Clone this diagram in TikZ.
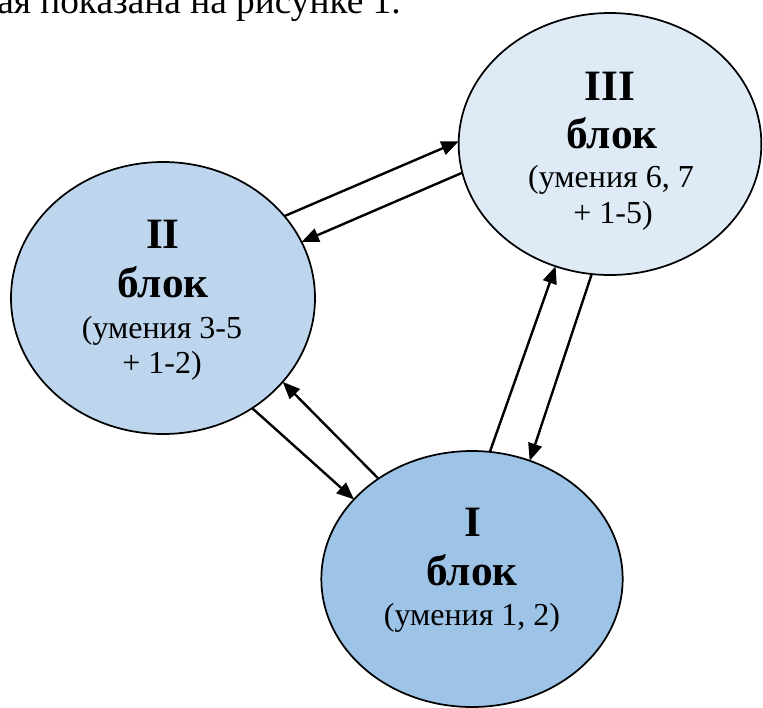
\documentclass[tikz,border=0pt]{standalone}
\usepackage{fontspec}
\setmainfont{Liberation Serif}
\usetikzlibrary{arrows.meta,shapes.geometric}
\definecolor{fillI}{HTML}{9DC3E6}
\definecolor{fillII}{HTML}{BDD6EE}
\definecolor{fillIII}{HTML}{DEEBF7}
\begin{document}
\begin{tikzpicture}[x=0.75pt,y=-0.75pt,
  blk/.style={ellipse, draw=black, line width=1.3pt, inner sep=0pt, outer sep=0pt},
  big/.style={font=\fontsize{32.5}{36}\selectfont\bfseries, inner sep=0pt, anchor=base},
  small/.style={font=\fontsize{24}{27}\selectfont, inner sep=0pt, anchor=base},
  link/.style={line width=1.8pt, -{Triangle[length=13pt,width=10.5pt]}}]
\useasboundingbox (0,0) rectangle (763,707);
\clip (0,0) rectangle (763,707);

\node[font=\fontsize{28}{31}\selectfont, inner sep=0pt, anchor=base west] (top) at (-3,13) {ая показана на рисунке 1.};

\node[blk, fill=fillII, minimum width=228pt, minimum height=204pt] (II) at (163,298) {};
\node[blk, fill=fillIII, minimum width=227pt, minimum height=196.5pt] (III) at (610,144) {};
\node[blk, fill=fillI, minimum width=226pt, minimum height=192pt] (I) at (472,579) {};

\node[big] (t2a) at (163,248) {II};
\node[big] (t2b) at (163,297) {блок};
\node[small] (t2c) at (162,338) {(умения 3-5};
\node[small] (t2d) at (162,373) {+ 1-2)};

\node[big] (t3a) at (610,100) {III};
\node[big] (t3b) at (612,148) {блок};
\node[small] (t3c) at (611,187) {(умения 6, 7};
\node[small] (t3d) at (613,223) {+ 1-5)};

\node[big] (t1a) at (473,536) {I};
\node[big] (t1b) at (472,585) {блок};
\node[small] (t1c) at (472,625) {(умения 1, 2)};

\draw[link] (II.34.4) -- (III.179.6);
\draw[link] (III.191.5) -- (II.22.9);
\draw[link] (II.-51.4) -- (I.146);
\draw[link] (I.133.2) -- (II.-35.7);
\draw[link] (I.82.3) -- (III.246.4);
\draw[link] (III.262.8) -- (I.64.7);
\end{tikzpicture}
\end{document}
